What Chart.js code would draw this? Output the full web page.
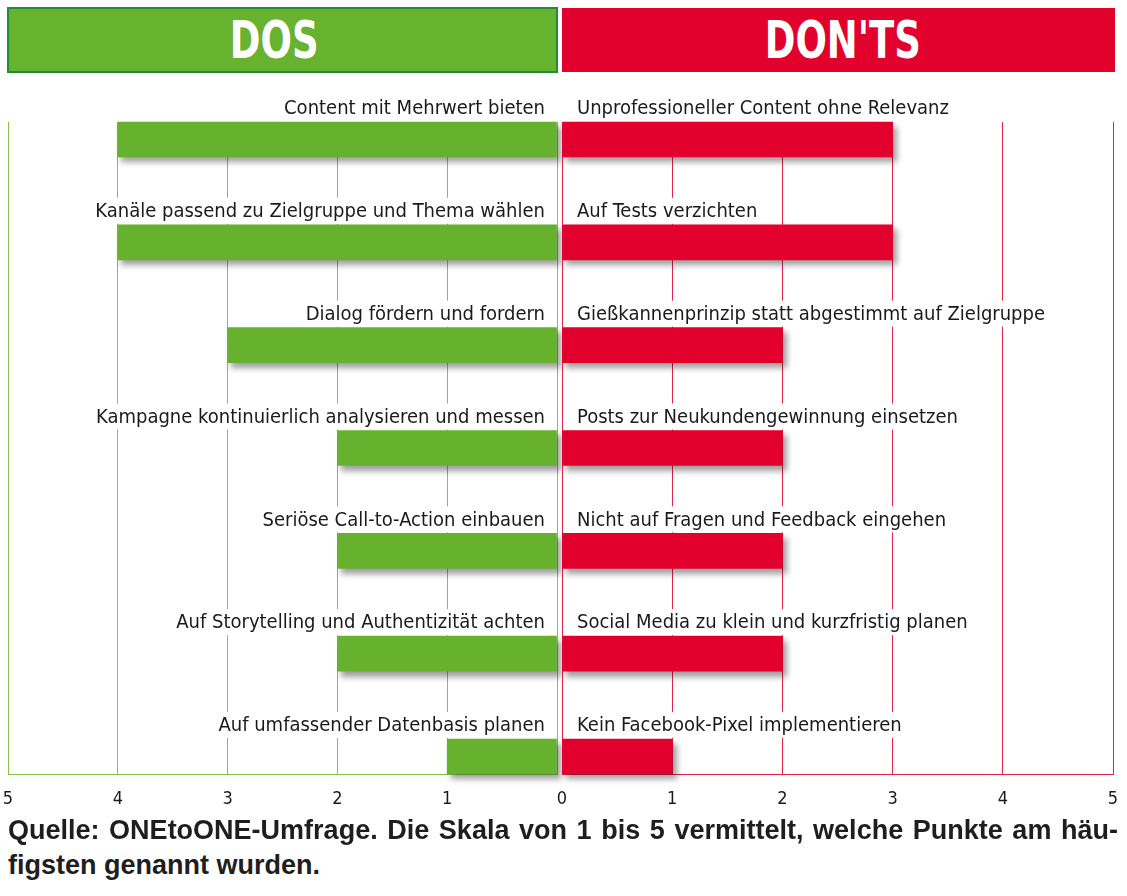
<!DOCTYPE html>
<html>
<head>
<meta charset="utf-8">
<script src="https://cdn.jsdelivr.net/npm/chart.js@4/dist/chart.umd.min.js"></script>
<style>
  html, body { margin: 0; padding: 0; background: #fff; }
  body { width: 1127px; height: 896px; position: relative; overflow: hidden; }
  .hdr { position: absolute; box-sizing: border-box; display: flex; align-items: center; justify-content: center; color: #fff;
         font-family: "DejaVu Sans Condensed", "DejaVu Sans", sans-serif; font-weight: bold; font-size: 52px; }
  .hdr span { display: inline-block; transform: scaleX(0.79); }
  #hdos { left: 7px; top: 7px; width: 551px; height: 66px; background: #67b22f; border: 2px solid #1f8c3b; padding-right: 16px; }
  #hdont { left: 562px; top: 8px; width: 553px; height: 64px; background: #e2002c; padding-left: 8px; }
  canvas { position: absolute; }
  #cl { left: 0; top: 0; }
  #cr { left: 555px; top: 0; }
  .foot { position: absolute; left: 8px; font-family: "Liberation Sans", Arial, sans-serif; font-weight: bold;
          font-size: 27px; color: #1e1e1e; white-space: nowrap; transform-origin: 0 0; }
  #f1 { top: 815px; }
  #f2 { top: 850px; }
</style>
</head>
<body>
<div class="hdr" id="hdos"><span id="tdos"></span></div>
<div class="hdr" id="hdont"><span id="tdont"></span></div>
<canvas id="cl" width="566" height="816"></canvas>
<canvas id="cr" width="572" height="816"></canvas>
<div class="foot" id="f1"></div>
<div class="foot" id="f2"></div>
<script>
const titleDos = "DOS";
const titleDonts = "DON'TS";
const dosLabels = [
  "Content mit Mehrwert bieten",
  "Kanäle passend zu Zielgruppe und Thema wählen",
  "Dialog fördern und fordern",
  "Kampagne kontinuierlich analysieren und messen",
  "Seriöse Call-to-Action einbauen",
  "Auf Storytelling und Authentizität achten",
  "Auf umfassender Datenbasis planen"
];
const dosValues = [4, 4, 3, 2, 2, 2, 1];
const dontLabels = [
  "Unprofessioneller Content ohne Relevanz",
  "Auf Tests verzichten",
  "Gießkannenprinzip statt abgestimmt auf Zielgruppe",
  "Posts zur Neukundengewinnung einsetzen",
  "Nicht auf Fragen und Feedback eingehen",
  "Social Media zu klein und kurzfristig planen",
  "Kein Facebook-Pixel implementieren"
];
const dontValues = [3, 3, 2, 2, 2, 2, 1];
const scaleTicks = [0, 1, 2, 3, 4, 5];
const footLine1 = "Quelle: ONEtoONE-Umfrage. Die Skala von 1 bis 5 vermittelt, welche Punkte am häu-";
const footLine2 = "figsten genannt wurden.";

document.getElementById('tdos').textContent = titleDos;
document.getElementById('tdont').textContent = titleDonts;
const f1 = document.getElementById('f1');
f1.textContent = footLine1;
document.getElementById('f2').textContent = footLine2;
(function justify() {
  const target = 1110;
  const w = f1.getBoundingClientRect().width;
  const spaces = (footLine1.match(/ /g) || []).length;
  if (w < target) f1.style.wordSpacing = ((target - w) / spaces) + 'px';
  else f1.style.transform = 'scaleX(' + (target / w) + ')';
})();

const GREEN = '#66b22e', GREEN_GRID = '#86c24c', RED = '#e2002c', RED_GRID = '#e2244a';
const LABEL_FONT = '20px "DejaVu Sans Condensed", "DejaVu Sans", sans-serif';

const shadowPlugin = {
  id: 'shadow',
  beforeDatasetsDraw(chart) {
    const ctx = chart.ctx; ctx.save();
    ctx.shadowColor = 'rgba(0,0,0,0.38)'; ctx.shadowBlur = 6; ctx.shadowOffsetX = 4; ctx.shadowOffsetY = 5;
  },
  afterDatasetsDraw(chart) { chart.ctx.restore(); }
};

const labelPlugin = {
  id: 'barLabels',
  afterDraw(chart, args, opts) {
    const ctx = chart.ctx;
    const meta = chart.getDatasetMeta(0);
    const x0 = chart.scales.x.getPixelForValue(0);
    ctx.save();
    ctx.font = LABEL_FONT;
    ctx.textBaseline = 'middle';
    meta.data.forEach((bar, i) => {
      const text = opts.labels[i];
      const w = ctx.measureText(text).width;
      const y = bar.y - bar.height / 2 - 14;
      const tx = opts.side === 'left' ? x0 - 12 - w : x0 + 15;
      ctx.fillStyle = '#fff';
      ctx.fillRect(tx - 4, y - 13, w + 8, 26);
      ctx.fillStyle = '#1a1a1a';
      ctx.textAlign = 'left';
      ctx.fillText(text, tx, y + 1);
    });
    ctx.restore();
  }
};

function makeChart(id, values, labels, color, gridColor, side) {
  return new Chart(document.getElementById(id), {
    type: 'bar',
    data: {
      datasets: [{
        data: values.map((v, i) => ({ x: v, y: i })),
        backgroundColor: color,
        borderWidth: 0,
        barThickness: 35,
        clip: false
      }]
    },
    options: {
      indexAxis: 'y',
      responsive: false,
      animation: false,
      events: [],
      layout: { padding: side === 'left' ? { left: 8, right: 9, top: 122, bottom: 0 } : { left: 7, right: 14, top: 122, bottom: 0 } },
      plugins: { legend: { display: false }, tooltip: { enabled: false }, barLabels: { labels, side } },
      scales: {
        x: {
          type: 'linear', min: 0, max: 5, reverse: side === 'left', position: 'bottom',
          afterBuildTicks: s => { s.ticks = scaleTicks.map(v => ({ value: v })); },
          afterFit: s => { s.height = 42; s.paddingLeft = 0; s.paddingRight = 0; },
          grid: { color: gridColor, lineWidth: 1, drawTicks: false },
          border: { display: true, color: gridColor, width: 1 },
          ticks: {
            color: '#1a1a1a', padding: 15,
            font: { family: '"DejaVu Sans Condensed", "DejaVu Sans", sans-serif', size: 18 },
            callback: v => (side === 'left' && v === 0) ? '' : String(v)
          }
        },
        y: { type: 'linear', min: -0.17, max: 6.17, reverse: true, offset: false, display: false }
      }
    },
    plugins: [shadowPlugin, labelPlugin]
  });
}

makeChart('cl', dosValues, dosLabels, GREEN, GREEN_GRID, 'left');
makeChart('cr', dontValues, dontLabels, RED, RED_GRID, 'right');
</script>
</body>
</html>
